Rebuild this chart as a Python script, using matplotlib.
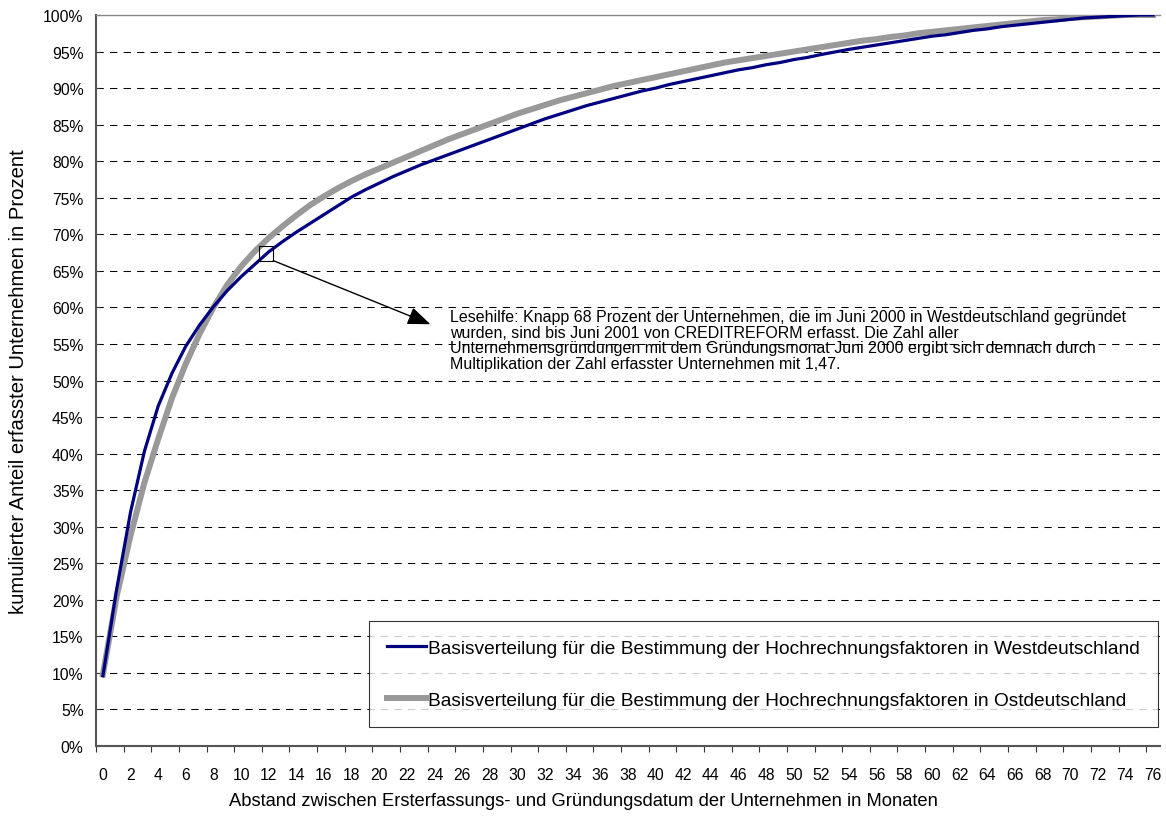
import numpy as np
import matplotlib
matplotlib.use("Agg")
import matplotlib.pyplot as plt
from matplotlib.patches import Rectangle
from matplotlib.ticker import FixedLocator, FuncFormatter

plt.rcParams['font.family'] = ['Liberation Sans', 'DejaVu Sans']

# months since founding (0..76)
months = list(range(77))

# cumulative share of registered firms, West Germany (%)
west = [9.6, 21.5, 32.0, 40.3, 46.5, 51.0, 54.7, 57.6, 60.1, 62.3,
        64.2, 65.9, 67.6, 69.0, 70.3, 71.5, 72.7, 73.9, 75.1, 76.1,
        77.0, 77.9, 78.7, 79.5, 80.2, 80.9, 81.6, 82.3, 83.0, 83.7,
        84.4, 85.1, 85.8, 86.4, 87.0, 87.6, 88.1, 88.6, 89.1, 89.6,
        90.0, 90.5, 90.9, 91.3, 91.7, 92.1, 92.5, 92.8, 93.2, 93.5,
        93.9, 94.2, 94.6, 94.95, 95.3, 95.6, 95.9, 96.2, 96.5, 96.8,
        97.1, 97.3, 97.6, 97.9, 98.1, 98.4, 98.6, 98.8, 99.0, 99.2,
        99.4, 99.6, 99.7, 99.8, 99.9, 100.0, 100.0]

# cumulative share of registered firms, East Germany (%)
east = [9.8, 20.5, 28.8, 36.0, 42.0, 47.6, 52.3, 56.4, 60.0, 63.1,
        65.6, 67.7, 69.5, 71.1, 72.6, 74.0, 75.2, 76.3, 77.3, 78.2,
        79.0, 79.8, 80.6, 81.4, 82.2, 83.0, 83.7, 84.4, 85.1, 85.8,
        86.5, 87.1, 87.7, 88.3, 88.8, 89.3, 89.8, 90.3, 90.7, 91.1,
        91.5, 91.9, 92.3, 92.7, 93.1, 93.5, 93.8, 94.1, 94.4, 94.7,
        95.0, 95.3, 95.6, 95.9, 96.2, 96.5, 96.7, 97.0, 97.2, 97.5,
        97.7, 97.9, 98.1, 98.3, 98.5, 98.7, 98.9, 99.1, 99.3, 99.4,
        99.6, 99.7, 99.8, 99.9, 100.0, 100.0, 100.0]

label_west = "Basisverteilung für die Bestimmung der Hochrechnungsfaktoren in Westdeutschland"
label_east = "Basisverteilung für die Bestimmung der Hochrechnungsfaktoren in Ostdeutschland"
note = ("Lesehilfe: Knapp 68 Prozent der Unternehmen, die im Juni 2000 in Westdeutschland gegründet\n"
        "wurden, sind bis Juni 2001 von CREDITREFORM erfasst. Die Zahl aller\n"
        "Unternehmensgründungen mit dem Gründungsmonat Juni 2000 ergibt sich demnach durch\n"
        "Multiplikation der Zahl erfasster Unternehmen mit 1,47.")
note_month = 12

W, H = 1166, 820
fig = plt.figure(figsize=(W / 100, H / 100), dpi=100)
ax = fig.add_axes([96 / W, 1 - 747 / H, 1064 / W, 731 / H])

l1, = ax.plot(months, west, color='#000080', lw=2.3, zorder=4)
l2, = ax.plot(months, east, color='#999999', lw=4.3, zorder=3)

ax.set_xlim(-0.5, 76.5)
ax.set_ylim(0, 100)

# horizontal dashed grid
for v in range(5, 100, 5):
    ax.axhline(v, color='black', lw=0.75, ls=(0, (7, 6)), zorder=1)

# y axis
ax.set_yticks(range(0, 101, 5))
ax.yaxis.set_major_formatter(FuncFormatter(lambda v, p: f"{int(v)}%"))
ax.tick_params(axis='y', direction='in', length=3, width=0.8, pad=9,
               labelsize=11.3, colors='#333333', labelcolor='black')

# x axis: labels at every second month, tick marks on category boundaries
ax.set_xticks(months[::2])
ax.set_xticklabels([str(m) for m in months[::2]])
ax.xaxis.set_minor_locator(FixedLocator([m - 0.5 for m in months[::2]]))
ax.tick_params(axis='x', which='major', length=0, pad=15, labelsize=11.3)
ax.tick_params(axis='x', which='minor', direction='out', length=4, width=0.8,
               colors='#333333')

for s in ['left', 'bottom']:
    ax.spines[s].set_color('#555555')
    ax.spines[s].set_linewidth(1.5)
ax.spines['top'].set_color('#888888')
ax.spines['top'].set_linewidth(1.0)
ax.spines['right'].set_visible(False)

ax.set_xlabel("Abstand zwischen Ersterfassungs- und Gründungsdatum der Unternehmen in Monaten",
              fontsize=13.2)
ax.xaxis.set_label_coords(0.458, -0.074)
ax.xaxis.label.set_va('center')
ax.set_ylabel("kumulierter Anteil erfasster Unternehmen in Prozent", fontsize=14.6)
ax.yaxis.set_label_coords(-0.073, 0.5)
ax.yaxis.label.set_va('center')

# reading aid: box around the 12-month point and arrow to the note
bx, by = note_month - 0.2, west[note_month] - 0.2
bw, bh = 1.06, 2.0
ax.add_patch(Rectangle((bx - bw / 2, by - bh / 2), bw, bh, fill=False,
                       edgecolor='black', lw=0.8, zorder=5))
ax.annotate("", xy=(23.7, 57.7), xytext=(bx + bw / 2, by - bh / 2),
            arrowprops=dict(arrowstyle='-|>,head_length=1.4,head_width=0.55',
                            color='black', lw=1.0, shrinkA=0, shrinkB=0),
            zorder=5)
fig.text(450 / W, 1 - 310 / H, note, fontsize=11.5, va='top', ha='left',
         linespacing=1.06)

leg = ax.legend([l1, l2], [label_west, label_east], loc='upper left',
                bbox_to_anchor=(369 / W, 1 - 622 / H), bbox_transform=fig.transFigure,
                fontsize=13.8, frameon=True, fancybox=False, borderaxespad=0,
                handlelength=2.0, handletextpad=0.15, labelspacing=1.8,
                borderpad=0.95)
leg.get_frame().set_edgecolor('black')
leg.get_frame().set_linewidth(0.8)
leg.set_zorder(6)

fig.savefig("out.png", dpi=100)
